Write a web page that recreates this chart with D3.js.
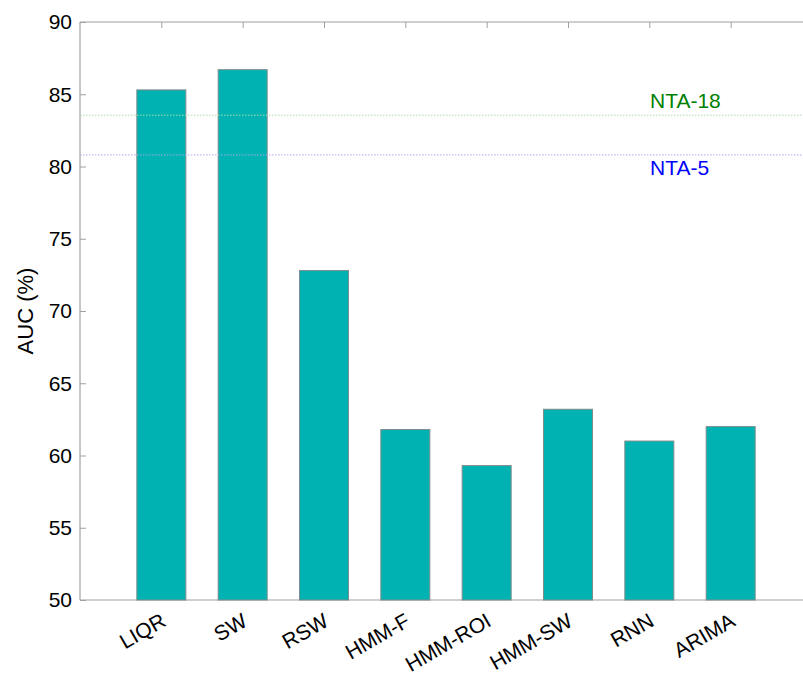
<!DOCTYPE html>
<html>
<head>
<meta charset="utf-8">
<script src="https://cdn.jsdelivr.net/npm/d3@7"></script>
<style>
  html, body { margin: 0; padding: 0; background: #fff; }
  svg { display: block; font-family: "Liberation Sans", Arial, sans-serif; }
</style>
</head>
<body>
<svg id="chart" width="803" height="677"></svg>
<script>
// Methods compared and their AUC scores (%)
const methods = ["LIQR", "SW", "RSW", "HMM-F", "HMM-ROI", "HMM-SW", "RNN", "ARIMA"];
const auc = [85.3, 86.7, 72.8, 61.8, 59.3, 63.2, 61.0, 62.0];

// Reference levels
const refNames = ["NTA-18", "NTA-5"];
const refValues = [83.55, 80.8];
const refColors = ["#008000", "#0000ff"];
const refLineColors = ["#a8dca8", "#a8a8f0"];

const yTicks = [50, 55, 60, 65, 70, 75, 80, 85, 90];

const svg = d3.select("#chart");
const plotL = 80, plotT = 22, plotB = 600, plotR = 812;

// Categories sit at integer positions 1..8 on a 0..9 axis
const x = d3.scaleLinear().domain([0, methods.length + 1]).range([plotL, plotR]);
const y = d3.scaleLinear().domain([50, 90]).range([plotB, plotT]);
const barW = 49;

// Frame lines
const frame = svg.append("g").attr("stroke", "#a0a0a0").attr("stroke-width", 1.2).attr("fill", "none");
frame.append("line").attr("x1", plotL).attr("x2", plotR).attr("y1", plotT).attr("y2", plotT);
frame.append("line").attr("x1", plotL).attr("x2", plotR).attr("y1", plotB).attr("y2", plotB);
frame.append("line").attr("x1", plotL).attr("x2", plotL).attr("y1", plotT).attr("y2", plotB);

// Inward ticks: y on the left, category ticks along the top
const yAxis = d3.axisRight(y).tickValues(yTicks).tickSize(6).tickFormat("");
const gy = svg.append("g").attr("transform", `translate(${plotL},0)`).call(yAxis);
gy.select(".domain").remove();
gy.selectAll(".tick line").attr("stroke", "#a0a0a0");

const topAxis = d3.axisBottom(x).tickValues(d3.range(1, methods.length + 1)).tickSize(6).tickFormat("");
const gt = svg.append("g").attr("transform", `translate(0,${plotT})`).call(topAxis);
gt.select(".domain").remove();
gt.selectAll(".tick line").attr("stroke", "#a0a0a0");

// Y tick labels
svg.append("g").selectAll("text").data(yTicks).join("text")
  .attr("x", plotL - 8)
  .attr("y", d => y(d))
  .attr("dy", "0.35em")
  .attr("text-anchor", "end")
  .attr("font-size", 21)
  .attr("fill", "#000")
  .text(d => d);

// Y axis title
svg.append("text")
  .attr("transform", `translate(33,${(plotT + plotB) / 2}) rotate(-90)`)
  .attr("text-anchor", "middle")
  .attr("font-size", 22)
  .attr("fill", "#000")
  .text("AUC (%)");

// Bars
svg.append("g").selectAll("rect").data(auc).join("rect")
  .attr("x", (d, i) => x(i + 1) - barW / 2)
  .attr("y", d => y(d))
  .attr("width", barW)
  .attr("height", d => y(50) - y(d))
  .attr("fill", "#00b2b2")
  .attr("stroke", "#7f8c8c")
  .attr("stroke-width", 1);

// Rotated category labels
svg.append("g").selectAll("text").data(methods).join("text")
  .attr("transform", (d, i) => `translate(${x(i + 1) + 6},${plotB + 25}) rotate(-30)`)
  .attr("text-anchor", "end")
  .attr("font-size", 21)
  .attr("fill", "#000")
  .text(d => d);

// Reference lines and their labels
svg.append("g").selectAll("line").data(refValues).join("line")
  .attr("x1", plotL).attr("x2", plotR)
  .attr("y1", d => y(d)).attr("y2", d => y(d))
  .attr("stroke", (d, i) => refLineColors[i])
  .attr("stroke-width", 1)
  .attr("stroke-dasharray", "1.5,1.5");

svg.append("g").selectAll("text").data(refValues).join("text")
  .attr("x", 650)
  .attr("y", (d, i) => i === 0 ? y(d) - 7.5 : y(d) + 20.5)
  .attr("font-size", 21)
  .attr("fill", (d, i) => refColors[i])
  .text((d, i) => refNames[i]);
</script>
</body>
</html>
